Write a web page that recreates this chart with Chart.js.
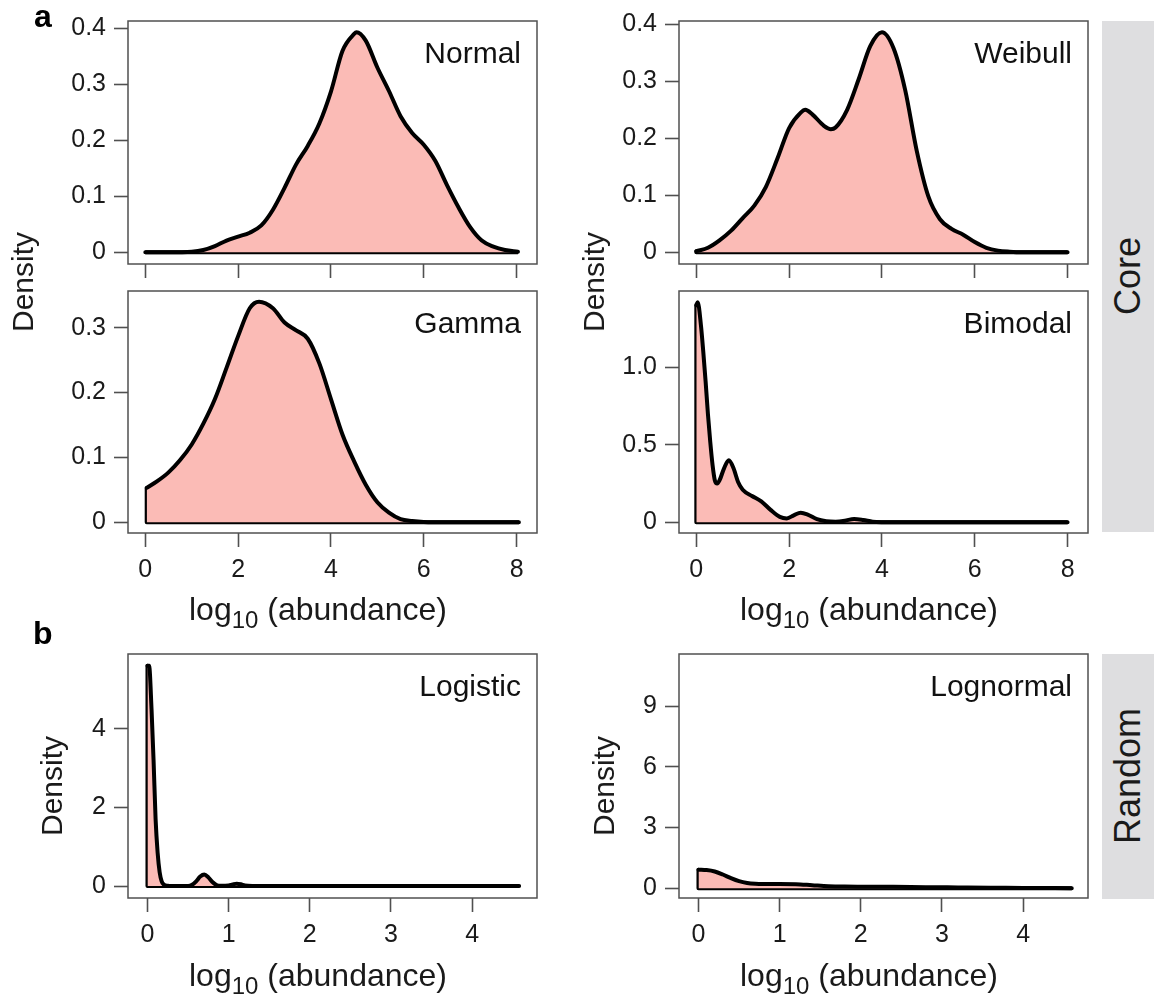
<!DOCTYPE html>
<html>
<head>
<meta charset="utf-8">
<title>Density of log10 abundance</title>
<script src="https://cdn.jsdelivr.net/npm/chart.js@4.4.1/dist/chart.umd.min.js"></script>
<style>
  html, body { margin: 0; padding: 0; background: #ffffff; }
  #fig { position: relative; width: 1154px; height: 1003px; overflow: hidden;
         font-family: "Liberation Sans", Arial, sans-serif; color: #1a1a1a; }
  #fig canvas { position: absolute; }
  .txt { position: absolute; white-space: nowrap; line-height: 1; }
  .rot { transform: translate(-50%, -50%) rotate(-90deg); }
  .dens { font-size: 30px; line-height: 30px; }
  .xt { font-size: 32px; line-height: 32px; transform: translateX(-50%); }
  .xt span { font-size: 24px; position: relative; top: 8px; }
  .strip { position: absolute; background: #dedee0; }
  .strip-txt { font-size: 36px; line-height: 36px; }
  .tag { font-size: 32px; line-height: 32px; font-weight: bold; color: #000; }
</style>
</head>
<body>
<div id="fig">
  <div class="strip" style="left:1102px; top:21px; width:52px; height:511px;"></div>
  <div class="strip" style="left:1102px; top:654px; width:52px; height:245px;"></div>
  <div class="txt strip-txt rot" style="left:1128px; top:276px;">Core</div>
  <div class="txt strip-txt rot" style="left:1128px; top:776px;">Random</div>

  <canvas id="normal" width="560" height="313" style="left:0px; top:-19px;"></canvas>
  <canvas id="weibull" width="560" height="313" style="left:551px; top:-19px;"></canvas>
  <canvas id="gamma" width="560" height="389" style="left:0px; top:251px;"></canvas>
  <canvas id="bimodal" width="560" height="389" style="left:551px; top:251px;"></canvas>
  <canvas id="logistic" width="560" height="389" style="left:0px; top:614px;"></canvas>
  <canvas id="lognormal" width="560" height="389" style="left:551px; top:614px;"></canvas>

  <div class="txt tag" style="left:34px; top:0px;">a</div>
  <div class="txt tag" style="left:33px; top:617px;">b</div>

  <div class="txt dens rot" style="left:23px; top:282px;">Density</div>
  <div class="txt dens rot" style="left:594px; top:282px;">Density</div>
  <div class="txt dens rot" style="left:52px; top:786px;">Density</div>
  <div class="txt dens rot" style="left:604px; top:786px;">Density</div>

  <div class="txt xt" style="left:318px; top:593px;">log<span>10</span> (abundance)</div>
  <div class="txt xt" style="left:869px; top:593px;">log<span>10</span> (abundance)</div>
  <div class="txt xt" style="left:318px; top:959px;">log<span>10</span> (abundance)</div>
  <div class="txt xt" style="left:869px; top:959px;">log<span>10</span> (abundance)</div>
</div>

<script>
// ---- data ----
const coreXTicks = [0, 2, 4, 6, 8];
const randomXTicks = [0, 1, 2, 3, 4];

const normalX = [0, 0.5, 1, 1.25, 1.5, 1.75, 2, 2.25, 2.5, 2.75, 3, 3.25, 3.5, 3.75, 4, 4.25, 4.5, 4.55, 4.75, 5, 5.25, 5.5, 5.75, 6, 6.25, 6.5, 6.75, 7, 7.25, 7.5, 7.75, 8.03];
const normalY = [0, 0, 0.001, 0.004, 0.011, 0.021, 0.028, 0.035, 0.048, 0.076, 0.115, 0.157, 0.19, 0.23, 0.287, 0.36, 0.39, 0.393, 0.378, 0.33, 0.288, 0.243, 0.213, 0.192, 0.163, 0.12, 0.08, 0.045, 0.021, 0.01, 0.004, 0.001];
const normalYTicks = [0, 0.1, 0.2, 0.3, 0.4];
const normalYLabels = ['0', '0.1', '0.2', '0.3', '0.4'];

const weibullX = [0, 0.25, 0.5, 0.75, 1, 1.25, 1.5, 1.75, 2, 2.25, 2.35, 2.5, 2.75, 2.9, 3, 3.25, 3.5, 3.75, 4, 4.25, 4.5, 4.75, 5, 5.25, 5.5, 5.75, 6, 6.25, 6.5, 6.75, 7, 8];
const weibullY = [0.002, 0.008, 0.021, 0.038, 0.06, 0.082, 0.115, 0.165, 0.218, 0.245, 0.25, 0.242, 0.222, 0.216, 0.219, 0.25, 0.304, 0.362, 0.386, 0.358, 0.285, 0.178, 0.098, 0.058, 0.041, 0.031, 0.018, 0.008, 0.003, 0.001, 0, 0];
const weibullYTicks = [0, 0.1, 0.2, 0.3, 0.4];
const weibullYLabels = ['0', '0.1', '0.2', '0.3', '0.4'];

const gammaX = [0.03, 0.25, 0.5, 0.75, 1, 1.25, 1.5, 1.75, 2, 2.25, 2.45, 2.75, 3, 3.25, 3.5, 3.75, 4, 4.25, 4.5, 4.75, 5, 5.25, 5.5, 5.75, 6, 6.5, 8.05];
const gammaY = [0.053, 0.063, 0.077, 0.096, 0.12, 0.152, 0.19, 0.238, 0.287, 0.33, 0.34, 0.33, 0.308, 0.296, 0.283, 0.245, 0.19, 0.135, 0.094, 0.058, 0.031, 0.015, 0.005, 0.002, 0.0005, 0, 0];
const gammaYTicks = [0, 0.1, 0.2, 0.3];
const gammaYLabels = ['0', '0.1', '0.2', '0.3'];

const bimodalX = [0, 0.03, 0.1, 0.15, 0.2, 0.25, 0.3, 0.35, 0.4, 0.45, 0.5, 0.6, 0.7, 0.8, 0.9, 1.0, 1.2, 1.4, 1.6, 1.8, 1.95, 2.1, 2.25, 2.4, 2.6, 2.8, 3.0, 3.2, 3.4, 3.6, 3.8, 4.0, 4.5, 8.0];
const bimodalY = [1.4, 1.42, 1.27, 1.1, 0.91, 0.7, 0.52, 0.37, 0.27, 0.25, 0.27, 0.35, 0.4, 0.35, 0.26, 0.21, 0.17, 0.135, 0.08, 0.035, 0.025, 0.045, 0.062, 0.05, 0.02, 0.007, 0.004, 0.01, 0.022, 0.015, 0.004, 0.001, 0, 0];
const bimodalYTicks = [0, 0.5, 1.0];
const bimodalYLabels = ['0', '0.5', '1.0'];

const logisticX = [0, 0.02, 0.05, 0.075, 0.1, 0.125, 0.15, 0.175, 0.2, 0.25, 0.3, 0.5, 0.55, 0.6, 0.65, 0.7, 0.75, 0.8, 0.85, 0.9, 1.0, 1.05, 1.1, 1.15, 1.2, 1.3, 1.5, 4.58];
const logisticY = [5.6, 5.6, 4.5, 3.2, 1.7, 0.85, 0.35, 0.12, 0.04, 0.005, 0, 0, 0.03, 0.12, 0.24, 0.29, 0.22, 0.1, 0.025, 0.005, 0.012, 0.04, 0.06, 0.045, 0.015, 0.002, 0, 0];
const logisticYTicks = [0, 2, 4];
const logisticYLabels = ['0', '2', '4'];

const lognormalX = [0, 0.1, 0.2, 0.3, 0.4, 0.5, 0.6, 0.7, 0.8, 1.0, 1.2, 1.4, 1.6, 1.8, 2.0, 2.4, 2.8, 3.2, 3.6, 4.0, 4.6];
const lognormalY = [0.92, 0.9, 0.83, 0.68, 0.5, 0.35, 0.26, 0.22, 0.21, 0.21, 0.2, 0.15, 0.1, 0.08, 0.075, 0.07, 0.05, 0.04, 0.03, 0.015, 0.005];
const lognormalYTicks = [0, 3, 6, 9];
const lognormalYLabels = ['0', '3', '6', '9'];

// ---- drawing ----
const FONT = '"Liberation Sans", Arial, sans-serif';
Chart.defaults.font.family = FONT;
Chart.defaults.color = '#1a1a1a';

const frame = {
  id: 'frame',
  afterDatasetsDraw(chart, args, opts) {
    const { ctx, chartArea: a } = chart;
    ctx.save();
    ctx.strokeStyle = '#505050';
    ctx.lineWidth = 1.5;
    ctx.strokeRect(a.left, a.top, a.right - a.left, a.bottom - a.top);
    ctx.fillStyle = '#111111';
    ctx.font = '30px ' + FONT;
    ctx.textAlign = 'right';
    ctx.textBaseline = 'alphabetic';
    ctx.fillText(opts.name, a.right - 16, a.top + 41.5);
    ctx.restore();
  }
};

function pts(xs, ys) {
  return xs.map((x, i) => ({ x: x, y: ys[i] }));
}

function makePanel(p) {
  const canvas = document.getElementById(p.id);
  const curve = pts(p.xs, p.ys);
  const x0 = p.xs[0], xEnd = p.xs[p.xs.length - 1];
  // polygon edge: vertical drop at the left end and the zero line under the curve
  const outline = [{ x: x0, y: p.ys[0] }, { x: x0, y: 0 }, { x: xEnd, y: 0 }];

  new Chart(canvas, {
    type: 'line',
    data: {
      datasets: [
        {
          data: curve,
          borderColor: '#000000',
          borderWidth: 4,
          backgroundColor: '#fbbbb6',
          fill: 'origin',
          pointRadius: 0,
          cubicInterpolationMode: 'monotone',
          borderJoinStyle: 'round',
          borderCapStyle: 'round'
        },
        {
          data: outline,
          borderColor: '#000000',
          borderWidth: 4,
          fill: false,
          pointRadius: 0,
          tension: 0,
          borderJoinStyle: 'round'
        }
      ]
    },
    options: {
      responsive: false,
      animation: false,
      devicePixelRatio: 1,
      events: [],
      layout: { padding: { top: p.padTop, right: 23, left: 0, bottom: 0 } },
      plugins: {
        legend: { display: false },
        tooltip: { enabled: false },
        frame: { name: p.name }
      },
      scales: {
        x: {
          type: 'linear',
          min: p.xMin,
          max: p.xMax,
          afterFit: s => { s.height = p.xAxisH; },
          afterBuildTicks: s => { s.ticks = p.xTicks.map(v => ({ value: v })); },
          border: { display: false },
          grid: { drawOnChartArea: false, drawTicks: true, tickLength: 14, tickWidth: 1.6, tickColor: '#505050' },
          ticks: {
            display: p.xLabels,
            autoSkip: false,
            maxRotation: 0,
            padding: 8,
            color: '#1a1a1a',
            font: { size: 25 },
            callback: (v, i) => String(p.xTicks[i])
          }
        },
        y: {
          type: 'linear',
          min: p.yMin,
          max: p.yMax,
          afterFit: s => { s.width = 128; },
          afterBuildTicks: s => { s.ticks = p.yTicks.map(v => ({ value: v })); },
          border: { display: false },
          grid: { drawOnChartArea: false, drawTicks: true, tickLength: 14, tickWidth: 1.6, tickColor: '#505050' },
          ticks: {
            autoSkip: false,
            padding: 8,
            color: '#1a1a1a',
            font: { size: 25 },
            callback: (v, i) => p.yLabels[i]
          }
        }
      }
    },
    plugins: [frame]
  });
}

const coreRange = { xMin: -0.373, xMax: 8.44 };
const randomRange = { xMin: -0.24, xMax: 4.8 };

makePanel(Object.assign({ id: 'normal', name: 'Normal', xs: normalX, ys: normalY, xTicks: coreXTicks, xLabels: false,
  yMin: -0.0209, yMax: 0.413, yTicks: normalYTicks, yLabels: normalYLabels, padTop: 40, xAxisH: 30 }, coreRange));
makePanel(Object.assign({ id: 'weibull', name: 'Weibull', xs: weibullX, ys: weibullY, xTicks: coreXTicks, xLabels: false,
  yMin: -0.0205, yMax: 0.4058, yTicks: weibullYTicks, yLabels: weibullYLabels, padTop: 40, xAxisH: 30 }, coreRange));
makePanel(Object.assign({ id: 'gamma', name: 'Gamma', xs: gammaX, ys: gammaY, xTicks: coreXTicks, xLabels: true,
  yMin: -0.0165, yMax: 0.3566, yTicks: gammaYTicks, yLabels: gammaYLabels, padTop: 40, xAxisH: 107 }, coreRange));
makePanel(Object.assign({ id: 'bimodal', name: 'Bimodal', xs: bimodalX, ys: bimodalY, xTicks: coreXTicks, xLabels: true,
  yMin: -0.069, yMax: 1.492, yTicks: bimodalYTicks, yLabels: bimodalYLabels, padTop: 40, xAxisH: 107 }, coreRange));
makePanel(Object.assign({ id: 'logistic', name: 'Logistic', xs: logisticX, ys: logisticY, xTicks: randomXTicks, xLabels: true,
  yMin: -0.305, yMax: 5.9, yTicks: logisticYTicks, yLabels: logisticYLabels, padTop: 40, xAxisH: 105 }, randomRange));
makePanel(Object.assign({ id: 'lognormal', name: 'Lognormal', xs: lognormalX, ys: lognormalY, xTicks: randomXTicks, xLabels: true,
  yMin: -0.483, yMax: 11.59, yTicks: lognormalYTicks, yLabels: lognormalYLabels, padTop: 40, xAxisH: 105 }, randomRange));
</script>
</body>
</html>
